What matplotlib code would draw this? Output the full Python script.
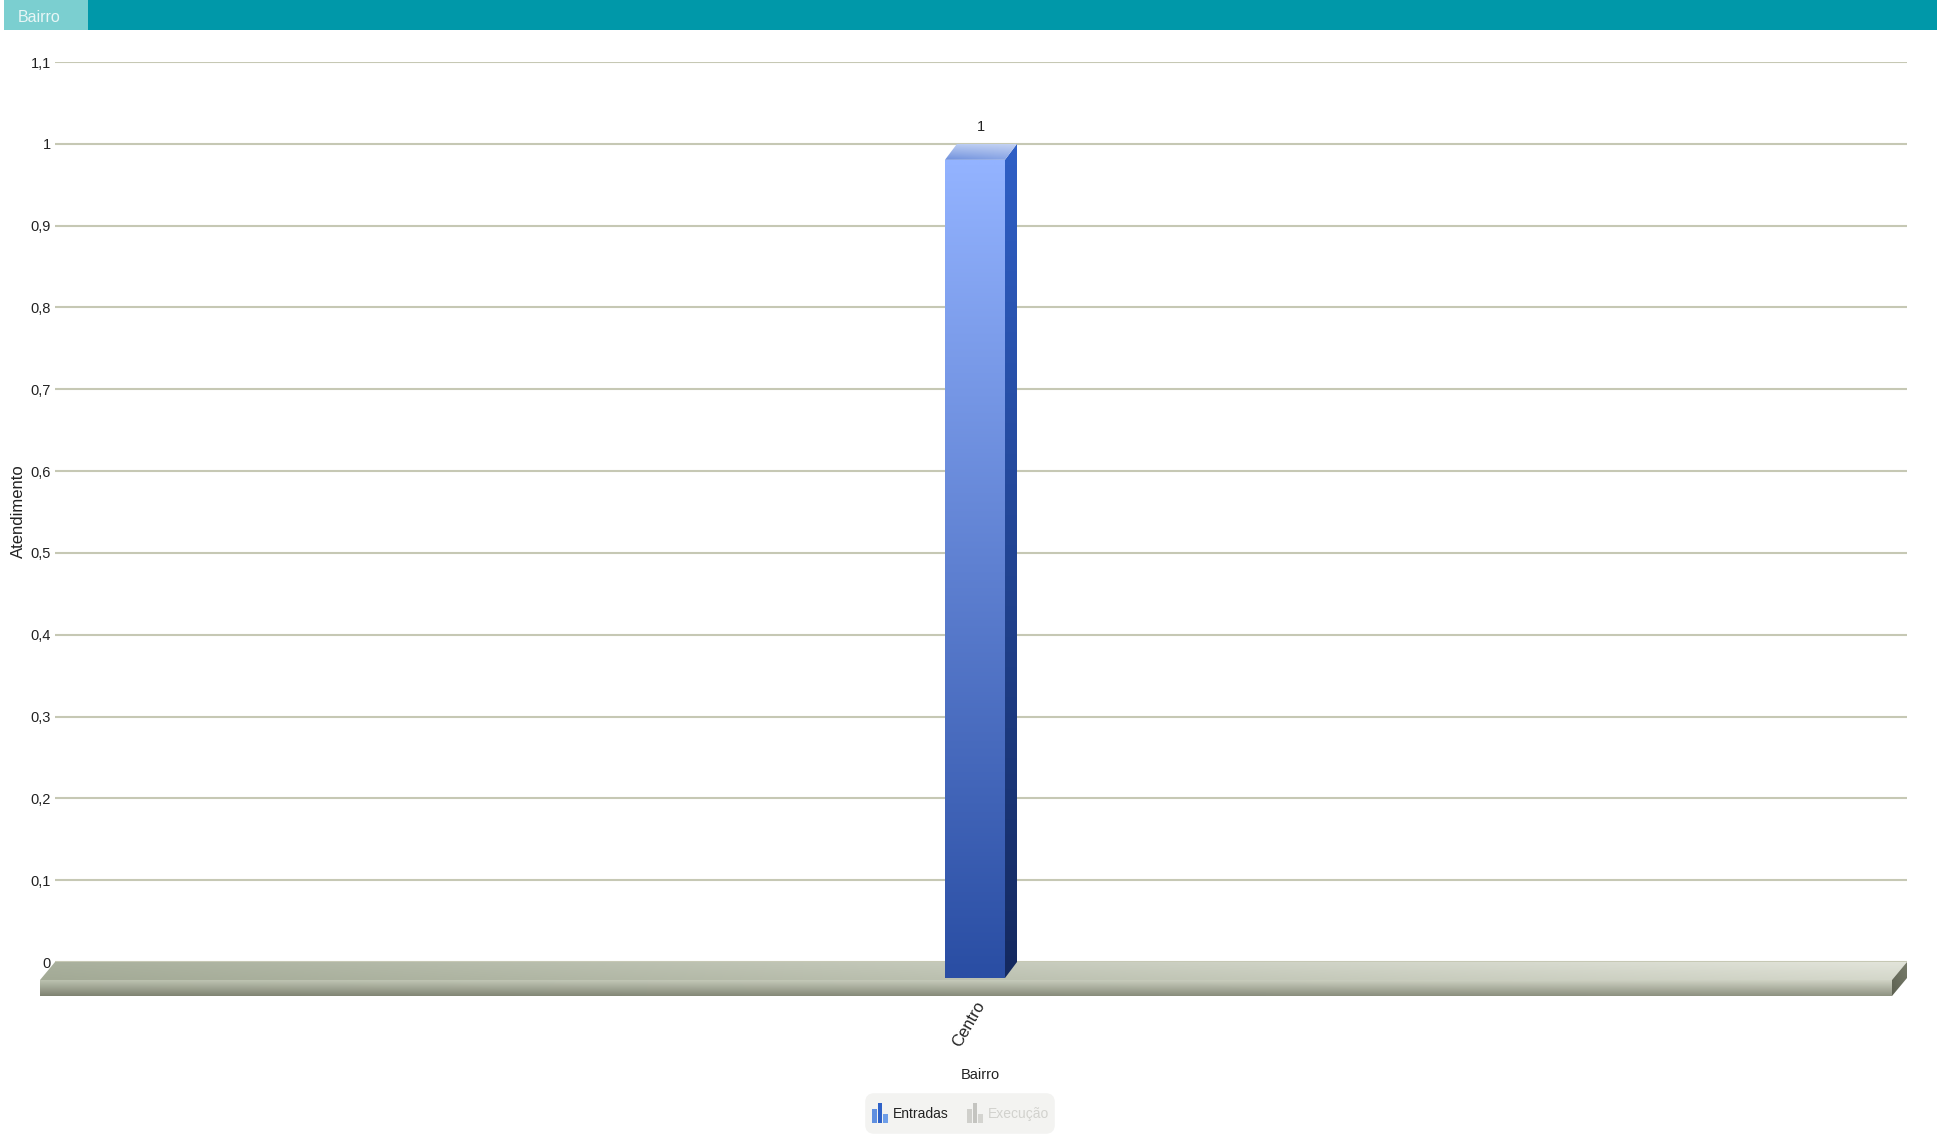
import numpy as np
import matplotlib
matplotlib.use("Agg")
import matplotlib.pyplot as plt
from matplotlib.colors import to_rgb
from matplotlib.patches import FancyBboxPatch, Polygon, Rectangle

plt.rcParams["font.family"] = ["Liberation Sans", "DejaVu Sans"]

W, H = 1937, 1136

categories = ["Centro"]
entradas = [1]
y_ticks = [0, 0.1, 0.2, 0.3, 0.4, 0.5, 0.6, 0.7, 0.8, 0.9, 1, 1.1]
y_labels = ["0", "0,1", "0,2", "0,3", "0,4", "0,5", "0,6", "0,7", "0,8", "0,9", "1", "1,1"]
legend_names = ["Entradas", "Execução"]
tab_title = "Bairro"
x_title = "Bairro"
y_title = "Atendimento"

# plot area in pixels
AX_L, AX_R, AX_T, AX_B = 55, 1907, 62, 962
DEPTH_X, DEPTH_Y = 12, 16
FLOOR_DX, FLOOR_DY, FLOOR_H = 15, 18, 16
BAR_W = 60


def corner_image(tl, tr, bl, br, n=64):
    tl, tr, bl, br = [np.array(to_rgb(c)) for c in (tl, tr, bl, br)]
    u = np.linspace(0, 1, n)[None, :, None]
    v = np.linspace(0, 1, n)[:, None, None]
    return (1 - v) * ((1 - u) * tl + u * tr) + v * ((1 - u) * bl + u * br)


def shade_poly(ax, pts, colors, zorder):
    # pts in data coords, gradient image clipped to the polygon
    pts = np.array(pts)
    ext = (pts[:, 0].min(), pts[:, 0].max(), pts[:, 1].min(), pts[:, 1].max())
    im = ax.imshow(corner_image(*colors), extent=ext, origin="upper", aspect="auto",
                   interpolation="bilinear", zorder=zorder)
    poly = Polygon(pts, closed=True, transform=ax.transData, fill=False, edgecolor="none")
    im.set_clip_path(poly)
    # images get cut at the axes box otherwise
    im.set_clip_box(ax.figure.bbox)


fig = plt.figure(figsize=(W / 100, H / 100), dpi=100, facecolor="white")

ax = fig.add_axes([AX_L / W, 1 - AX_B / H, (AX_R - AX_L) / W, (AX_B - AX_T) / H])
ax.set_xlim(-0.5, len(categories) - 0.5)
ax.set_ylim(0, 1.1)
for s in ax.spines.values():
    s.set_visible(False)
ax.patch.set_alpha(0)
ax.set_axisbelow(True)
ax.grid(axis="y", color="#c6c8b4", lw=1.5)
ax.set_yticks(y_ticks)
ax.set_yticklabels(y_labels, fontsize=10.5, color="#222222")
ax.tick_params(axis="y", length=0, pad=3)
ax.set_xticks(range(len(categories)))
ax.set_xticklabels(categories, rotation=60, ha="right", va="center", rotation_mode="anchor",
                   fontsize=12, color="#222222")
ax.tick_params(axis="x", length=0, pad=29)

# pixel -> data scale
sx = (ax.get_xlim()[1] - ax.get_xlim()[0]) / (AX_R - AX_L)
sy = 1.1 / (AX_B - AX_T)
dx, dy = DEPTH_X * sx, DEPTH_Y * sy
bw = BAR_W * sx

# floor
fl, fr = -0.5, len(categories) - 0.5
fdx, fdy, fh = FLOOR_DX * sx, FLOOR_DY * sy, FLOOR_H * sy
shade_poly(ax, [(fl, 0), (fr, 0), (fr - fdx, -fdy), (fl - fdx, -fdy)],
           ("#a9b09d", "#e2e4da", "#a3aa96", "#d4d7ca"), 2)
shade_poly(ax, [(fl - fdx, -fdy), (fr - fdx, -fdy), (fr - fdx, -fdy - fh), (fl - fdx, -fdy - fh)],
           ("#bcc2b0", "#d0d3c5", "#7e8271", "#8f9382"), 2)
shade_poly(ax, [(fr - fdx, -fdy), (fr, 0), (fr, -fh), (fr - fdx, -fdy - fh)],
           ("#6c7060", "#777b6a", "#5c6050", "#6c7060"), 2)

# bars
for i, v in enumerate(entradas):
    left = i - (bw + dx) / 2
    right = left + bw
    shade_poly(ax, [(left, -dy), (right, -dy), (right, v - dy), (left, v - dy)],
               ("#93b3ff", "#93b3ff", "#2a4ea4", "#2a4ea4"), 3)
    shade_poly(ax, [(right, -dy), (right + dx, 0), (right + dx, v), (right, v - dy)],
               ("#2f5fc6", "#2f5fc6", "#14295f", "#14295f"), 3)
    shade_poly(ax, [(left, v - dy), (right, v - dy), (right + dx, v), (left + dx, v)],
               ("#b9cbf2", "#c4d2f2", "#6f90dc", "#8aa6e6"), 3)
    ax.annotate(str(v), (i, v), xytext=(0, 10), textcoords="offset pixels", ha="center", va="bottom",
                fontsize=10.5, color="#222222", annotation_clip=False)

ax.set_xlim(-0.5, len(categories) - 0.5)
ax.set_ylim(0, 1.1)

# page furniture in pixel coords
page = fig.add_axes([0, 0, 1, 1], zorder=5)
page.set_xlim(0, W)
page.set_ylim(H, 0)
page.axis("off")
page.patch.set_alpha(0)

page.add_patch(Rectangle((4, 0), W - 4, 30, color="#0098a9", lw=0))
page.add_patch(Rectangle((4, 0), 84, 30, color="#7bcfd0", lw=0))
page.text(18, 17, tab_title, color="#e8f6f6", fontsize=11.5, ha="left", va="center")

page.text(980, 1075, x_title, color="#222222", fontsize=10.5, ha="center", va="center")
page.text(18, 511, y_title, color="#222222", fontsize=12, ha="center", va="center", rotation=90)

page.add_patch(FancyBboxPatch((868, 1096), 184, 35, boxstyle="round,pad=0,rounding_size=6",
                              fc="#f3f3f1", ec="#f3f3f1", lw=4))
legend_x = [872, 967]
legend_col = [["#5f8fe0", "#2f62c8", "#6f9ee8"], ["#cfcfcb", "#c4c4c0", "#d4d4d0"]]
text_col = ["#222222", "#d2d2ce"]
for name, x0, cols, tc in zip(legend_names, legend_x, legend_col, text_col):
    for k, (h, c) in enumerate(zip((14, 20, 9), cols)):
        page.add_patch(Rectangle((x0 + k * 5.5, 1123 - h), 4.5, h, color=c, lw=0))
    page.text(x0 + 21, 1114, name, color=tc, fontsize=10, ha="left", va="center")

fig.savefig("out.png", dpi=100, facecolor="white")
